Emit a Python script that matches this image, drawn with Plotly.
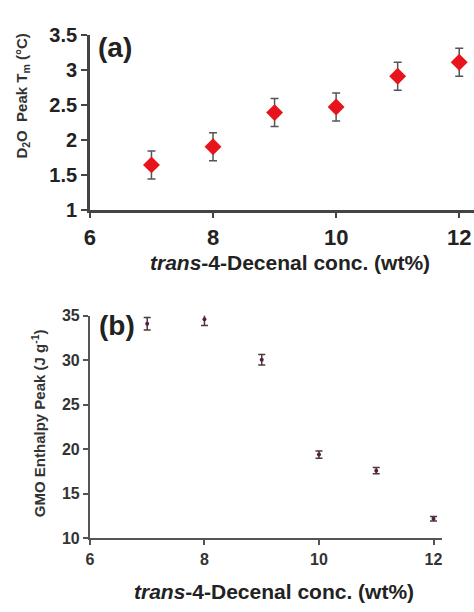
import plotly.graph_objects as go

# Panel (a) data
conc_a = [7, 8, 9, 10, 11, 12]
tm_a = [1.64, 1.90, 2.39, 2.47, 2.91, 3.11]
tm_err = [0.20, 0.20, 0.20, 0.20, 0.20, 0.20]

# Panel (b) data
conc_b = [7, 8, 9, 10, 11, 12]
enth_b = [34.1, 34.6, 30.05, 19.4, 17.6, 12.2]
enth_err = [0.7, 0.7, 0.6, 0.4, 0.35, 0.25]

x_ticks = [6, 8, 10, 12]
x_labels = ["6", "8", "10", "12"]
ya_ticks = [1, 1.5, 2, 2.5, 3, 3.5]
ya_labels = ["1", "1.5", "2", "2.5", "3", "3.5"]
yb_ticks = [10, 15, 20, 25, 30, 35]
yb_labels = ["10", "15", "20", "25", "30", "35"]

W, H = 474, 612
FONT = "Liberation Sans"

def bold(labels):
    return ["<b>%s</b>" % s for s in labels]

fig = go.Figure()
fig.add_trace(go.Scatter(
    x=conc_a, y=tm_a, mode="markers", xaxis="x", yaxis="y",
    marker=dict(symbol="diamond", size=13, color="#e8141c"),
    error_y=dict(type="data", array=tm_err, visible=True, color="#555555", thickness=1.5, width=4),
    showlegend=False))
fig.add_trace(go.Scatter(
    x=conc_b, y=enth_b, mode="markers", xaxis="x2", yaxis="y2",
    marker=dict(symbol="circle", size=4, color="#5a1a4a"),
    error_y=dict(type="data", array=enth_err, visible=True, color="#4a3a3a", thickness=1.5, width=3.5),
    showlegend=False))

tick_font_a_y = dict(family=FONT, size=20, color="#222222")
tick_font_a_x = dict(family=FONT, size=22, color="#222222")
tick_font_b = dict(family=FONT, size=16, color="#333333")

fig.update_layout(
    width=W, height=H, margin=dict(l=0, r=0, t=0, b=0),
    paper_bgcolor="white", plot_bgcolor="white",
    font=dict(family=FONT),
    xaxis=dict(domain=[85 / W, 1.0], range=[6, 12.24], anchor="y",
               tickvals=x_ticks, ticktext=bold(x_labels), ticks="outside", ticklen=6, tickwidth=2,
               tickcolor="#444", showline=True, linecolor="#444", linewidth=2.5,
               showgrid=False, zeroline=False, tickfont=tick_font_a_x),
    yaxis=dict(domain=[1 - 206 / H, 1 - 25 / H], range=[1, 3.5], anchor="x",
               tickvals=ya_ticks, ticktext=bold(ya_labels), ticks="outside", ticklen=6, tickwidth=2,
               tickcolor="#444", showline=True, linecolor="#444", linewidth=2.5,
               showgrid=False, zeroline=False, tickfont=tick_font_a_y),
    xaxis2=dict(domain=[85 / W, 441.7 / W], range=[6, 12.15], anchor="y2",
                tickvals=x_ticks, ticktext=bold(x_labels), ticks="outside", ticklen=5, tickwidth=2,
                tickcolor="#555", showline=True, linecolor="#555", linewidth=2,
                showgrid=False, zeroline=False, tickfont=tick_font_b),
    yaxis2=dict(domain=[1 - 547 / H, 1 - 316 / H], range=[10, 35], anchor="x2",
                tickvals=yb_ticks, ticktext=bold(yb_labels), ticks="outside", ticklen=5, tickwidth=2,
                tickcolor="#555", showline=True, linecolor="#555", linewidth=2,
                showgrid=False, zeroline=False, tickfont=tick_font_b),
)

def ann(text, x, y, size, angle=0, color="#222222"):
    fig.add_annotation(text=text, x=x / W, y=1 - y / H, xref="paper", yref="paper",
                       showarrow=False, textangle=angle, xanchor="center", yanchor="middle",
                       font=dict(family=FONT, size=size, color=color))

ann("<b>(a)</b>", 110, 38, 28)
ann("<b>(b)</b>", 112, 326, 28)
ann("<b>D<sub>2</sub>O  Peak T<sub>m</sub> (°C)</b>", 17, 88, 15, angle=-90, color="#333333")
ann("<b>GMO Enthalpy Peak (J g<sup>-1</sup>)</b>", 33, 428, 15, angle=-90, color="#333333")
ann("<b><i>trans</i>-4-Decenal conc. (wt%)</b>", 288, 261, 21)
ann("<b><i>trans</i>-4-Decenal conc. (wt%)</b>", 271, 602, 21)

fig.write_html("out.html")
